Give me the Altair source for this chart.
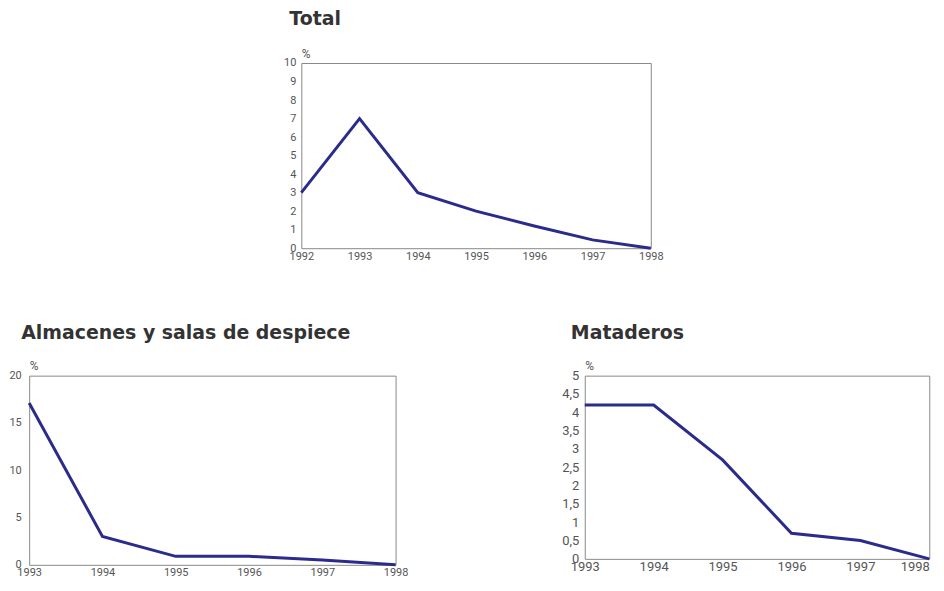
import altair as alt
import pandas as pd

total_years = [1992, 1993, 1994, 1995, 1996, 1997, 1998]
total_values = [3.0, 7.0, 3.0, 2.0, 1.2, 0.45, 0.0]

alm_years = [1993, 1994, 1995, 1996, 1997, 1998]
alm_values = [17.1, 3.0, 0.9, 0.9, 0.5, 0.0]

mat_years = [1993, 1994, 1995, 1996, 1997, 1998]
mat_values = [4.2, 4.2, 2.7, 0.7, 0.5, 0.0]

LINE = "#2b2b8c"
TITLE_FONT = "DejaVu Sans"
FONT = "Roboto"
TITLE_COLOR = "#333333"
LABEL_COLOR = "#555555"


def panel(years, values, title, w, h, ymax, yvals, yfs, xfs, ypad, title_dx, toff,
          comma=False, flush_last=False):
    df = pd.DataFrame({"year": years, "value": values})
    ykw = dict(
        values=yvals, title="%", titleAngle=0, titleAlign="left",
        titleBaseline="bottom", titleX=0, titleY=-3, titleFont=FONT,
        titleFontSize=12, titleFontWeight="normal", titleColor=LABEL_COLOR,
        labelFont=FONT, labelFontSize=yfs, labelColor=LABEL_COLOR,
        ticks=False, domain=False, grid=False, labelPadding=ypad,
    )
    if comma:
        ykw["labelExpr"] = "replace(toString(datum.value), '.', ',')"
    xkw = dict(
        values=years, format="d", title=None, labelFont=FONT, labelFontSize=xfs,
        labelColor=LABEL_COLOR, ticks=False, domain=False, grid=False,
        labelFlush=False, labelOverlap=False, labelBound=False, labelPadding=2,
    )
    if flush_last:
        xkw["labelAlign"] = {"condition": {"test": "datum.value == 1998", "value": "right"},
                             "value": "center"}
    return alt.Chart(df).mark_line(color=LINE, strokeWidth=3).encode(
        x=alt.X("year:Q", scale=alt.Scale(domain=[min(years), max(years)], nice=False, zero=False),
                axis=alt.Axis(**xkw)),
        y=alt.Y("value:Q", scale=alt.Scale(domain=[0, ymax], nice=False), axis=alt.Axis(**ykw)),
    ).properties(
        width=w, height=h,
        title=alt.TitleParams(title, anchor="start", frame="group", font=TITLE_FONT,
                              fontSize=19, fontWeight="bold", color=TITLE_COLOR,
                              dx=title_dx, offset=toff),
    )


top = panel(total_years, total_values, "Total", 351, 186, 10, list(range(0, 11)),
            11, 11, 5.5, -12, 18)
left = panel(alm_years, alm_values, "Almacenes y salas de despiece", 368, 190, 20,
             [0, 5, 10, 15, 20], 11, 11, 8, -8, 17)
right = panel(mat_years, mat_values, "Mataderos", 346, 184, 5,
              [0, 0.5, 1, 1.5, 2, 2.5, 3, 3.5, 4, 4.5, 5], 13, 13, 6, -14, 17,
              comma=True, flush_last=True)

bottom = alt.hconcat(left, right, spacing=153)
chart = alt.vconcat(top, bottom, spacing=61, center=True).properties(
    padding=0
).configure_view(stroke="#888888", strokeWidth=1)

chart.save("out.html", embed_options={"renderer": "svg", "actions": False})
